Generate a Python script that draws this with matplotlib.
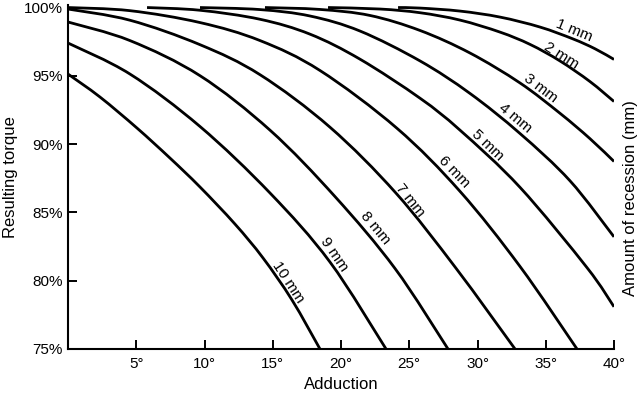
import numpy as np
import matplotlib
matplotlib.use("Agg")
import matplotlib.pyplot as plt
from matplotlib.path import Path
from matplotlib.patches import PathPatch

plt.rcParams["font.family"] = ["Liberation Sans", "DejaVu Sans"]

# Resulting torque (%) against adduction (deg), one curve per amount of recession
recession_mm = [1, 2, 3, 4, 5, 6, 7, 8, 9, 10]

adduction_1mm = [24.18, 25.79, 28.72, 31.65, 34.58, 37.0, 38.61, 40.0]
torque_1mm = [100.0, 99.96, 99.74, 99.3, 98.57, 97.7, 96.98, 96.2]

adduction_2mm = [19.05, 22.86, 25.79, 28.72, 31.65, 33.85, 36.04, 38.24, 40.0]
torque_2mm = [100.0, 99.89, 99.62, 99.08, 98.2, 97.3, 96.09, 94.58, 93.12]

adduction_3mm = [14.43, 18.46, 22.12, 25.79, 29.45, 33.11, 36.04, 38.24, 40.0]
torque_3mm = [100.0, 99.86, 99.42, 98.32, 96.67, 94.48, 92.26, 90.4, 88.73]

adduction_4mm = [9.67, 14.07, 17.73, 21.39, 25.79, 29.45, 33.11, 36.78, 40.0]
torque_4mm = [100.0, 99.85, 99.38, 98.28, 96.09, 93.71, 90.78, 87.31, 83.21]

adduction_5mm = [5.79, 9.67, 14.07, 17.73, 21.39, 25.79, 28.72, 33.11, 38.02, 40.0]
torque_5mm = [100.0, 99.8, 99.14, 98.05, 96.22, 93.36, 91.02, 86.84, 80.96, 78.09]

adduction_6mm = [0.0, 4.54, 9.67, 14.07, 18.46, 24.1, 28.72, 33.11, 37.29]
torque_6mm = [100.0, 99.77, 98.9, 97.58, 95.39, 91.16, 86.54, 81.05, 75.0]

adduction_7mm = [0.0, 4.54, 9.67, 14.07, 19.19, 24.03, 28.42, 32.75]
torque_7mm = [99.89, 99.07, 97.28, 95.08, 91.24, 86.41, 80.92, 75.0]

adduction_8mm = [0.0, 4.54, 9.67, 14.8, 19.56, 23.96, 27.84]
torque_8mm = [98.94, 97.58, 95.01, 91.02, 86.16, 80.89, 75.0]

adduction_9mm = [0.0, 4.54, 9.67, 14.8, 19.19, 23.3]
torque_9mm = [97.4, 95.13, 91.29, 86.42, 81.37, 75.0]

adduction_10mm = [0.0, 2.34, 5.05, 7.47, 9.67, 12.23, 14.29, 16.41, 18.46]
torque_10mm = [95.13, 93.45, 91.18, 88.98, 86.86, 84.15, 81.66, 78.59, 75.0]

x_ticks = [5, 10, 15, 20, 25, 30, 35, 40]
y_ticks = [75, 80, 85, 90, 95, 100]

curves = [
    (adduction_1mm, torque_1mm), (adduction_2mm, torque_2mm),
    (adduction_3mm, torque_3mm), (adduction_4mm, torque_4mm),
    (adduction_5mm, torque_5mm), (adduction_6mm, torque_6mm),
    (adduction_7mm, torque_7mm), (adduction_8mm, torque_8mm),
    (adduction_9mm, torque_9mm), (adduction_10mm, torque_10mm),
]

# where each "n mm" label sits (deg, %)
label_pos = [(37.1, 98.35), (36.1, 96.45), (34.65, 94.1), (32.75, 91.9),
             (30.75, 89.9), (28.3, 87.95), (25.05, 85.9), (22.5, 83.85),
             (19.5, 81.9), (16.1, 79.9)]


def smooth_path(xs, ys):
    # Catmull-Rom through the read points, drawn as cubic Bezier segments
    pts = np.column_stack([xs, ys]).astype(float)
    ext = np.vstack([pts[0], pts, pts[-1]])
    verts = [pts[0]]
    codes = [Path.MOVETO]
    for i in range(1, len(ext) - 2):
        p0, p1, p2, p3 = ext[i - 1], ext[i], ext[i + 1], ext[i + 2]
        verts += [p1 + (p2 - p0) / 6, p2 - (p3 - p1) / 6, p2]
        codes += [Path.CURVE4] * 3
    return Path(verts, codes)


fig = plt.figure(figsize=(6.4, 3.94), dpi=100, facecolor="white")
ax = fig.add_axes([68 / 640, 1 - 349 / 394, 546 / 640, 344.2 / 394])

for xs, ys in curves:
    ax.add_patch(PathPatch(smooth_path(xs, ys), facecolor="none",
                           edgecolor="black", linewidth=2.0, capstyle="butt"))

ax.set_xlim(0, 40)
ax.set_ylim(75, 100.2)

ax.spines[["top", "right"]].set_visible(False)
ax.spines[["left", "bottom"]].set_linewidth(1.5)

ax.set_xticks(x_ticks)
ax.set_xticklabels([f"{t}°" for t in x_ticks])
ax.set_yticks(y_ticks)
ax.set_yticklabels([f"{t}%" for t in y_ticks])
ax.tick_params(direction="in", length=6.5, width=1.4, labelsize=11, pad=6)
ax.tick_params(axis="y", pad=4)

ax.set_xlabel("Adduction", fontsize=12, labelpad=4)
ax.set_ylabel("Resulting torque", fontsize=12, labelpad=4)
fig.text(630 / 640, 1 - 198 / 394, "Amount of recession (mm)", rotation=90,
         ha="center", va="center", fontsize=12)

# curve labels, rotated along the local slope of each curve
for (xs, ys), mm, (lx, ly) in zip(curves, recession_mm, label_pos):
    p0 = ax.transData.transform((lx - 0.6, np.interp(lx - 0.6, xs, ys)))
    p1 = ax.transData.transform((lx + 0.6, np.interp(lx + 0.6, xs, ys)))
    ang = np.degrees(np.arctan2(p1[1] - p0[1], p1[0] - p0[0]))
    ax.text(lx, ly, f"{mm} mm", rotation=ang, rotation_mode="anchor",
            ha="center", va="center", fontsize=11)

fig.savefig("out.png", dpi=100, facecolor="white")
